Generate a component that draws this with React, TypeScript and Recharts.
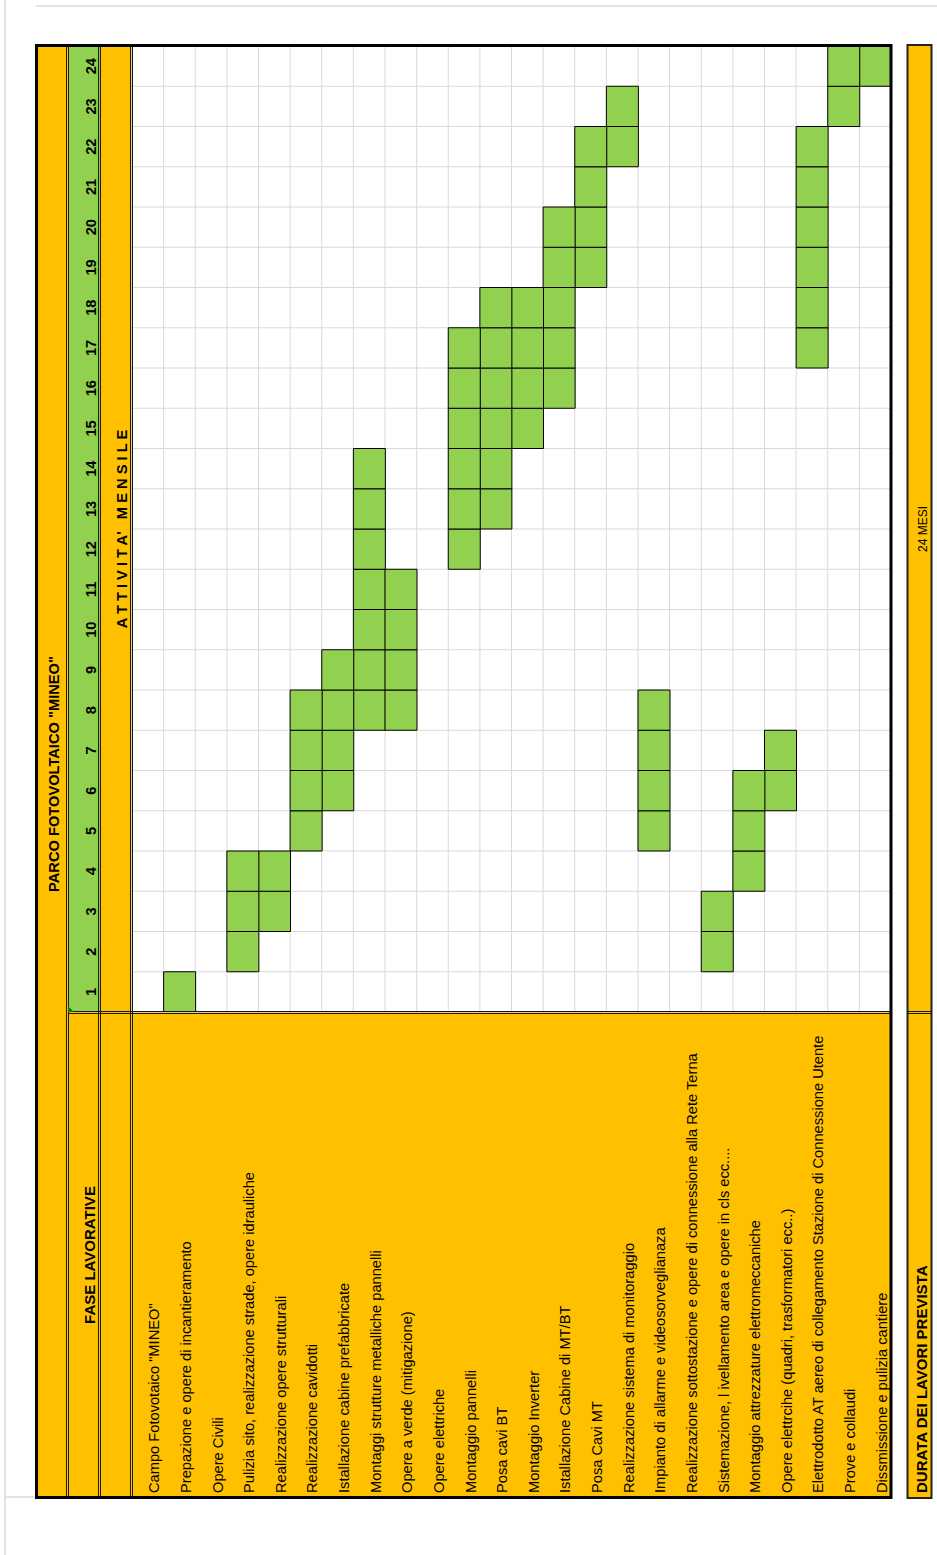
import React from 'react';
import { BarChart, Bar, XAxis, YAxis, CartesianGrid } from 'recharts';

const TITLE = 'PARCO FOTOVOLTAICO "MINEO"';
const HEADER_PHASES = 'FASE LAVORATIVE';
const HEADER_ACTIVITY = "A T T I V I T A'   M E N S I L E";
const FOOTER_LABEL = 'DURATA DEI LAVORI PREVISTA';
const FOOTER_VALUE = '24 MESI';

const TASKS = [
  'Campo Fotovotaico "MINEO"',
  'Prepazione e opere di incantieramento',
  'Opere Civili',
  'Pulizia sito, realizzazione strade, opere idrauliche',
  'Realizzazione opere strutturali',
  'Realizzazione cavidotti',
  'Istallazione cabine prefabbricate',
  'Montaggi strutture metalliche pannelli',
  'Opere a verde (mitigazione)',
  'Opere elettriche',
  'Montaggio pannelli',
  'Posa cavi BT',
  'Montaggio Inverter',
  'Istallazione Cabine di MT/BT',
  'Posa Cavi MT',
  'Realizzazione sistema di monitoraggio',
  'Impianto di allarme e videosorveglianaza',
  'Realizzazione sottostazione e opere di connessione alla Rete Terna',
  'Sistemazione, l ivellamento area e opere in cls ecc....',
  'Montaggio attrezzature elettromeccaniche',
  'Opere elettrcihe (quadri, trasformatori ecc..)',
  'Elettrodotto AT aereo di collegamento Stazione di Connessione Utente',
  'Prove e collaudi',
  'Dissmissione e pulizia cantiere',
];

// first and last active month of each phase (0 = no activity row)
const START_MONTH = [0, 1, 0, 2, 3, 5, 6, 8, 8, 0, 12, 13, 15, 16, 19, 22, 5, 0, 2, 4, 6, 17, 23, 24];
const END_MONTH = [0, 1, 0, 4, 4, 8, 9, 14, 11, 0, 17, 18, 18, 20, 22, 23, 8, 0, 3, 6, 7, 22, 24, 24];

const MONTHS = [1, 2, 3, 4, 5, 6, 7, 8, 9, 10, 11, 12, 13, 14, 15, 16, 17, 18, 19, 20, 21, 22, 23, 24];
const MONTH_EDGES = [0, ...MONTHS];
const CELL_KEYS = ['c1', 'c2', 'c3', 'c4', 'c5', 'c6', 'c7'];

const DATA = TASKS.map((task, i) => {
  const s = START_MONTH[i];
  const e = END_MONTH[i];
  const row: any = { task, off: s > 0 ? s - 1 : 0 };
  CELL_KEYS.forEach((k, j) => {
    row[k] = s > 0 && j < e - s + 1 ? 1 : 0;
  });
  return row;
});

const ORANGE = '#FFC000';
const GREEN = '#92D050';
const GRID = '#D9D9D9';
const FONT = '"Liberation Sans", Arial, Helvetica, sans-serif';

const W = 1555;
const H = 937;

const applyScale = (sc: any, v: any): number | undefined => {
  if (typeof sc === 'function') {
    const r = sc(v);
    return typeof r === 'number' && !isNaN(r) ? r : undefined;
  }
  if (sc && typeof sc.map === 'function') {
    const r = sc.map(v);
    return typeof r === 'number' && !isNaN(r) ? r : undefined;
  }
  return undefined;
};

const vGen = (props: any) => {
  const sc = props?.xAxis?.scale;
  const off = props.offset;
  return MONTH_EDGES.map((v) => {
    const p = applyScale(sc, v);
    return p !== undefined ? p : off.left + (v / MONTHS.length) * off.width;
  });
};

const hGen = (props: any) => {
  const sc = props?.yAxis?.scale;
  const off = props.offset;
  const bw = sc && typeof sc.bandwidth === 'function' ? sc.bandwidth() : off.height / TASKS.length;
  const starts = TASKS.map((t, i) => {
    const p = applyScale(sc, t);
    return p !== undefined ? p : off.top + i * bw;
  });
  return [...starts, starts[starts.length - 1] + bw];
};

const TaskTick = (props: any) => {
  const { y, payload } = props;
  return (
    <text x={62} y={y + 11.5} fontSize={14.67} fontFamily={FONT} fill="#000" textAnchor="start">
      {payload.value}
    </text>
  );
};

const MonthTick = (props: any) => {
  const { x, index } = props;
  return (
    <text x={x} y={95.5} fontSize={14.67} fontWeight="bold" fontFamily={FONT} fill="#000" textAnchor="middle">
      {MONTHS[index]}
    </text>
  );
};

const DoubleH = ({ x1, x2, y }: { x1: number; x2: number; y: number }) => (
  <g>
    <line x1={x1} x2={x2} y1={y - 1.5} y2={y - 1.5} stroke="#1a1a1a" strokeWidth={1} />
    <line x1={x1} x2={x2} y1={y + 0.5} y2={y + 0.5} stroke="#1a1a1a" strokeWidth={1} />
  </g>
);

const DoubleV = ({ y1, y2, x }: { y1: number; y2: number; x: number }) => (
  <g>
    <line x1={x - 1.5} x2={x - 1.5} y1={y1} y2={y2} stroke="#1a1a1a" strokeWidth={1} />
    <line x1={x + 0.5} x2={x + 0.5} y1={y1} y2={y2} stroke="#1a1a1a" strokeWidth={1} />
  </g>
);

export default function App() {
  return (
    <div
      style={{
        position: 'absolute',
        left: 0,
        top: 0,
        width: 937,
        height: 1555,
        overflow: 'hidden',
        background: '#fff',
      }}
    >
      <div
        style={{
          position: 'absolute',
          left: 0,
          top: 0,
          width: W,
          height: H,
          transformOrigin: '0 0',
          transform: `translate(0px, ${W}px) rotate(-90deg)`,
        }}
      >
        {/* background layer */}
        <svg style={{ position: 'absolute', left: 0, top: 0 }} width={W} height={H}>
          <line x1={1549} x2={1549} y1={36} y2={H} stroke="#e2e2e2" strokeWidth={2} />
          <line x1={0} x2={W} y1={5} y2={5} stroke="#e2e2e2" strokeWidth={2} />
          <line x1={58} x2={58} y1={5} y2={36} stroke="#e2e2e2" strokeWidth={2} />
          <rect x={57} y={36} width={1453} height={32} fill={ORANGE} />
          <rect x={57} y={68} width={486} height={32} fill={ORANGE} />
          <rect x={543} y={68} width={967} height={32} fill={GREEN} />
          <rect x={57} y={100} width={1453} height={32} fill={ORANGE} />
          <rect x={57} y={132} width={486} height={759} fill={ORANGE} />
          <rect x={57} y={907} width={1453} height={25} fill={ORANGE} />
        </svg>

        {/* chart layer */}
        <div style={{ position: 'absolute', left: 0, top: 0 }}>
          <BarChart
            width={W}
            height={H}
            data={DATA}
            layout="vertical"
            margin={{ top: 68, right: 46, bottom: 46, left: 57 }}
            barCategoryGap={0}
            barGap={0}
          >
            <CartesianGrid
              stroke={GRID}
              strokeWidth={1}
              verticalCoordinatesGenerator={vGen}
              horizontalCoordinatesGenerator={hGen}
            />
            <XAxis
              type="number"
              orientation="top"
              domain={[0, 24]}
              ticks={MONTHS.map((m) => m - 0.5)}
              interval={0}
              allowDataOverflow
              axisLine={false}
              tickLine={false}
              height={64}
              tick={(p: any) => <MonthTick {...p} />}
            />
            <YAxis
              type="category"
              dataKey="task"
              width={486}
              interval={0}
              axisLine={false}
              tickLine={false}
              tick={(p: any) => <TaskTick {...p} />}
            />
            <Bar dataKey="off" stackId="g" fill="none" stroke="none" isAnimationActive={false} />
            {CELL_KEYS.map((k) => (
              <Bar
                key={k}
                dataKey={k}
                stackId="g"
                fill={GREEN}
                stroke="#000"
                strokeWidth={1}
                isAnimationActive={false}
              />
            ))}
          </BarChart>
        </div>

        {/* foreground layer */}
        <svg style={{ position: 'absolute', left: 0, top: 0, pointerEvents: 'none' }} width={W} height={H}>
          <DoubleH x1={57} x2={1510} y={68} />
          <DoubleH x1={57} x2={1510} y={100} />
          <DoubleH x1={57} x2={1510} y={132} />
          <DoubleV x={543} y1={68} y2={891} />
          <rect x={57.5} y={36.5} width={1452} height={854.5} fill="none" stroke="#000" strokeWidth={3} />
          <rect x={57} y={907.5} width={1453} height={24} fill="none" stroke="#222" strokeWidth={2} />
          <DoubleV x={543} y1={907} y2={932} />
          <path d="M543,68 L549,68 L543,74 Z" fill="#008000" />

          <text x={781} y={58.5} fontSize={14.67} fontWeight="bold" fontFamily={FONT} textAnchor="middle" fill="#000">
            {TITLE}
          </text>
          <text x={300} y={95} fontSize={15} fontWeight="bold" fontFamily={FONT} textAnchor="middle" fill="#000">
            {HEADER_PHASES}
          </text>
          <text
            x={1026}
            y={127}
            fontSize={14.67}
            fontWeight="bold"
            fontFamily={FONT}
            textAnchor="middle"
            fill="#000"
            style={{ whiteSpace: 'pre' }}
          >
            {HEADER_ACTIVITY}
          </text>
          <text x={62} y={927} fontSize={15} fontWeight="bold" fontFamily={FONT} textAnchor="start" fill="#000">
            {FOOTER_LABEL}
          </text>
          <text x={1026} y={927} fontSize={12} fontFamily={FONT} textAnchor="middle" fill="#000">
            {FOOTER_VALUE}
          </text>
        </svg>
      </div>
    </div>
  );
}
